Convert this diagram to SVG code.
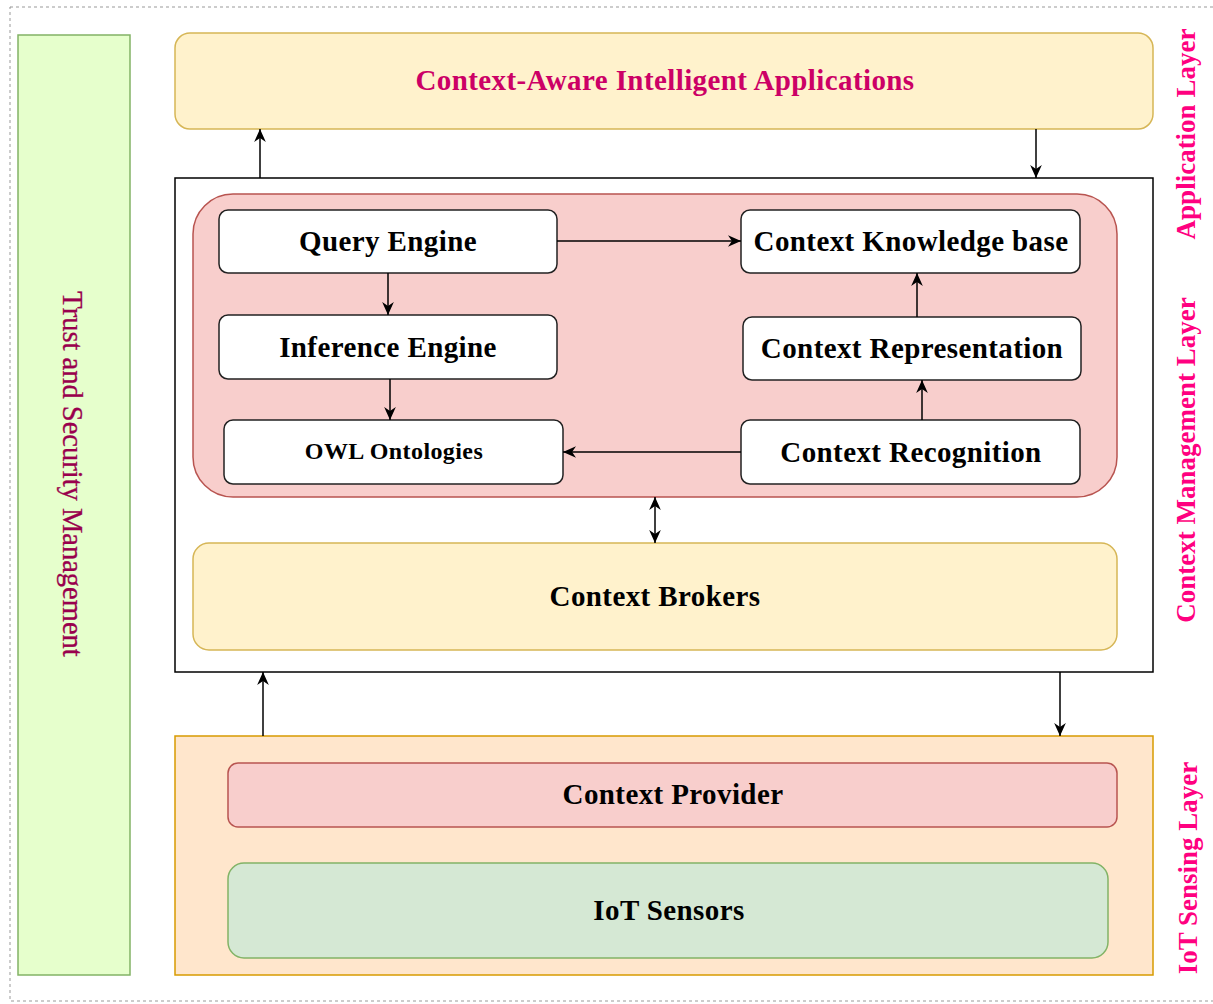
<svg xmlns="http://www.w3.org/2000/svg" width="1213" height="1004" viewBox="0 0 1213 1004">
<defs>
<marker id="arr" viewBox="0 0 10 10" refX="10" refY="5" markerWidth="13" markerHeight="13" markerUnits="userSpaceOnUse" orient="auto-start-reverse">
<path d="M0,0.5 L10,5 L0,9.5 L3,5 z" fill="#000"/>
</marker>
<style>
.node{fill:#fff;stroke:#222;stroke-width:1.5}
.yel{fill:#FFF2CC;stroke:#D6B656;stroke-width:1.5}
.red{fill:#F8CECC;stroke:#B85450;stroke-width:1.5}
.t{font-family:"Liberation Serif","Times New Roman",serif;font-weight:bold;fill:#000;text-anchor:middle;dominant-baseline:central;letter-spacing:0.4px}
.layer{font-family:"Liberation Serif","Times New Roman",serif;font-weight:bold;fill:#FF0080;font-size:27px;text-anchor:middle;dominant-baseline:central}
.c line{stroke:#000;stroke-width:1.5;fill:none}
</style>
</defs>
<rect x="0" y="0" width="1213" height="1004" fill="#fff"/>
<rect x="10" y="7" width="1215" height="994" fill="none" stroke="#999" stroke-width="1" stroke-dasharray="3 3"/>

<g id="trust">
<rect x="18" y="35" width="112" height="940" fill="#E6FFCC" stroke="#82B366" stroke-width="1.5"/>
<text x="72" y="474" transform="rotate(90 72 474)" font-family="'Liberation Serif','Times New Roman',serif" font-size="28.5" fill="#99004D" stroke="#99004D" stroke-width="0.3" text-anchor="middle" dominant-baseline="central">Trust and Security Management</text>
</g>

<g id="app">
<rect class="yel" x="175" y="33" width="978" height="96" rx="15"/>
<text class="t" x="665" y="80" font-size="29" style="fill:#CC0066">Context-Aware Intelligent Applications</text>
</g>

<g id="mgmt">
<rect x="175" y="178" width="978" height="494" fill="#fff" stroke="#000" stroke-width="1.5"/>
</g>
<g id="engine-container">
<rect class="red" x="193" y="194" width="924" height="303" rx="40"/>
</g>
<g id="query">
<rect class="node" x="219" y="210" width="338" height="63" rx="9"/>
<text class="t" x="388" y="241" font-size="29">Query Engine</text>
</g>
<g id="inference">
<rect class="node" x="219" y="315" width="338" height="64" rx="9"/>
<text class="t" x="388" y="347" font-size="29">Inference Engine</text>
</g>
<g id="owl">
<rect class="node" x="224" y="420" width="339" height="64" rx="9"/>
<text class="t" x="394" y="451" font-size="24">OWL Ontologies</text>
</g>
<g id="knowledge">
<rect class="node" x="741" y="210" width="339" height="63" rx="9"/>
<text class="t" x="911" y="241" font-size="29">Context Knowledge base</text>
</g>
<g id="representation">
<rect class="node" x="743" y="317" width="338" height="63" rx="9"/>
<text class="t" x="912" y="348" font-size="29">Context Representation</text>
</g>
<g id="recognition">
<rect class="node" x="741" y="420" width="339" height="64" rx="9"/>
<text class="t" x="911" y="452" font-size="29">Context Recognition</text>
</g>
<g id="brokers">
<rect class="yel" x="193" y="543" width="924" height="107" rx="16"/>
<text class="t" x="655" y="596" font-size="29">Context Brokers</text>
</g>

<g id="iot-layer">
<rect x="175" y="736" width="978" height="239" fill="#FFE6CC" stroke="#D79B00" stroke-width="1.5"/>
</g>
<g id="provider">
<rect class="red" x="228" y="763" width="889" height="64" rx="10"/>
<text class="t" x="673" y="794" font-size="29">Context Provider</text>
</g>
<g id="sensors">
<rect x="228" y="863" width="880" height="95" rx="16" fill="#D5E8D4" stroke="#82B366" stroke-width="1.5"/>
<text class="t" x="669" y="910" font-size="29">IoT Sensors</text>
</g>

<g id="labels">
<text class="layer" x="1186" y="134" transform="rotate(-90 1186 134)">Application Layer</text>
<text class="layer" x="1186" y="460" transform="rotate(-90 1186 460)">Context Management Layer</text>
<text class="layer" x="1188" y="868" transform="rotate(-90 1188 868)">IoT Sensing Layer</text>
</g>

<g id="connectors" class="c">
<line x1="260" y1="178" x2="260" y2="129" marker-end="url(#arr)"/>
<line x1="1036" y1="129" x2="1036" y2="178" marker-end="url(#arr)"/>
<line x1="557" y1="241" x2="741" y2="241" marker-end="url(#arr)"/>
<line x1="388" y1="273" x2="388" y2="315" marker-end="url(#arr)"/>
<line x1="390" y1="379" x2="390" y2="420" marker-end="url(#arr)"/>
<line x1="917" y1="317" x2="917" y2="273" marker-end="url(#arr)"/>
<line x1="922" y1="420" x2="922" y2="380" marker-end="url(#arr)"/>
<line x1="741" y1="452" x2="563" y2="452" marker-end="url(#arr)"/>
<line x1="655" y1="497" x2="655" y2="543" marker-start="url(#arr)" marker-end="url(#arr)"/>
<line x1="263" y1="736" x2="263" y2="672" marker-end="url(#arr)"/>
<line x1="1060" y1="672" x2="1060" y2="736" marker-end="url(#arr)"/>
</g>
</svg>
